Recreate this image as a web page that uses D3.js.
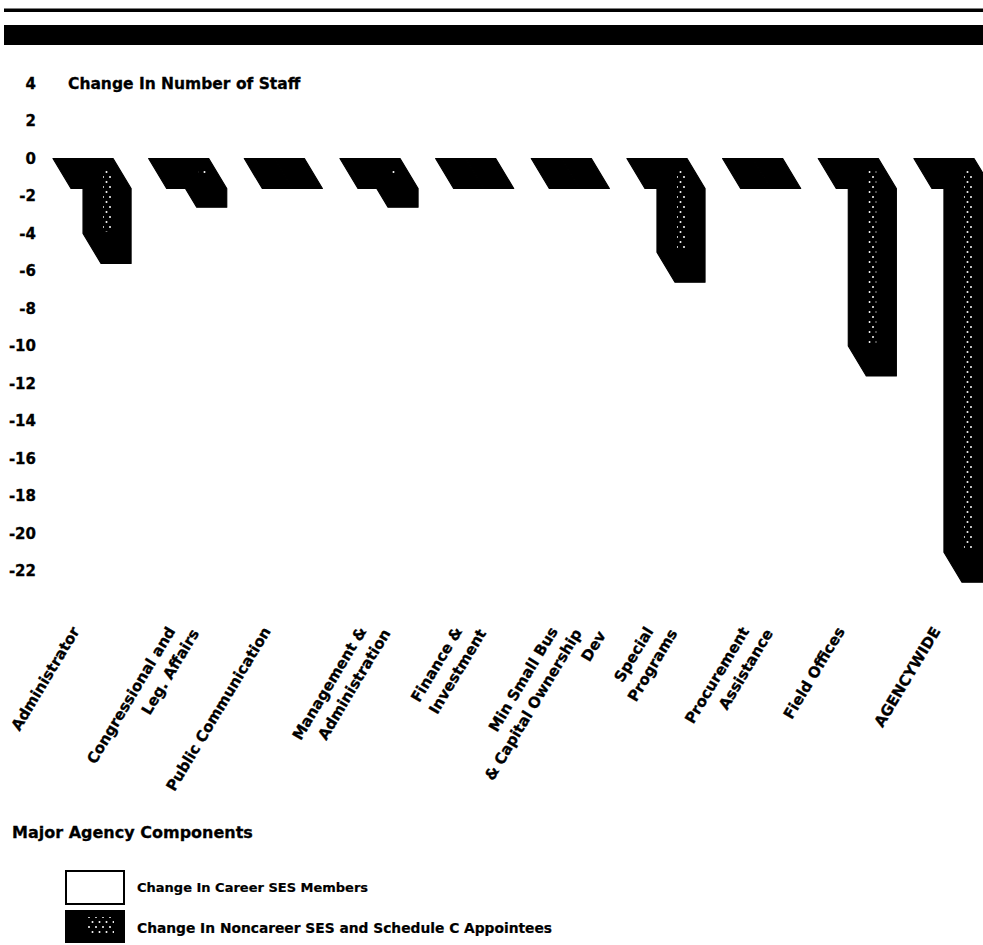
<!DOCTYPE html>
<html>
<head>
<meta charset="utf-8">
<script src="https://cdn.jsdelivr.net/npm/d3@7"></script>
<style>
  html, body { margin: 0; padding: 0; background: #fff; }
  svg { display: block; }
  text { font-family: "DejaVu Sans", sans-serif; font-weight: bold; fill: #000; }
</style>
</head>
<body>
<svg id="chart" width="983" height="945"></svg>
<script>
// Agency components (label lines as printed under each bar)
const categoryLines = [
  ["Administrator"],
  ["Congressional and", "Leg. Affairs"],
  ["Public Communication"],
  ["Management &", "Administration"],
  ["Finance &", "Investment"],
  ["Min Small Bus", "& Capital Ownership", "Dev"],
  ["Special", "Programs"],
  ["Procurement", "Assistance"],
  ["Field Offices"],
  ["AGENCYWIDE"]
];
const categories = categoryLines.map(l => l.join(" "));

// Change in number of staff per component
const careerChange    = [0, 0, 0, 0, 0, 0, 0, 0, 0, 0];
const noncareerChange = [-4, -1, 0, -1, 0, 0, -5, 0, -10, -21];

const seriesNames = [
  "Change In Career SES Members",
  "Change In Noncareer SES and Schedule C Appointees"
];
const yTicks = [4, 2, 0, -2, -4, -6, -8, -10, -12, -14, -16, -18, -20, -22];

const svg = d3.select("#chart");
const defs = svg.append("defs");

// sparse white dots on black for the noncareer series
const pat = defs.append("pattern")
  .attr("id", "dots").attr("patternUnits", "userSpaceOnUse")
  .attr("width", 7).attr("height", 10);
pat.append("rect").attr("width", 7).attr("height", 10).attr("fill", "#000");
pat.append("circle").attr("cx", 1.5).attr("cy", 2).attr("r", 1).attr("fill", "#fff");
pat.append("circle").attr("cx", 5).attr("cy", 7).attr("r", 1).attr("fill", "#fff");

// header rules
svg.append("rect").attr("x", 4).attr("y", 8.5).attr("width", 979).attr("height", 3.5).attr("fill", "#000");
svg.append("rect").attr("x", 4).attr("y", 25).attr("width", 979).attr("height", 20).attr("fill", "#000");

// scales
const y = d3.scaleLinear().domain([4, -22]).range([83.5, 571]);
const x = d3.scaleBand().domain(categories).range([53, 974]).paddingInner(0.372).paddingOuter(0);
const xs = d3.scaleBand().domain(seriesNames).range([0, x.bandwidth()]);
const depth = { dx: 18, dy: 30 };

// y axis
const yAxis = d3.axisLeft(y).tickValues(yTicks).tickSize(0).tickPadding(0)
  .tickFormat(d => d < 0 ? "-" + Math.abs(d) : String(d));
const gy = svg.append("g").attr("transform", "translate(36,0)").call(yAxis);
gy.select(".domain").remove();
gy.selectAll("text")
  .style("font-family", "\"DejaVu Sans\", sans-serif")
  .style("font-weight", "bold")
  .style("font-size", "15px")
  .attr("fill", "#000")
  .attr("stroke", "#000").attr("stroke-width", 0.3);

// axis title
svg.append("text").attr("x", 68).attr("y", 89)
  .style("font-size", "15.5px").attr("stroke", "#000").attr("stroke-width", 0.3)
  .text("Change In Number of Staff");

// bars: oblique 3D boxes hanging from zero, depth toward upper-left
const barData = categories.flatMap((c, i) => [
  { c, s: seriesNames[0], v: careerChange[i] },
  { c, s: seriesNames[1], v: noncareerChange[i] }
]);

function barPath(d) {
  const x0 = x(d.c) + xs(d.s), x1 = x0 + xs.bandwidth();
  const y0 = y(0), yv = y(d.v);
  const { dx, dy } = depth;
  return d3.line()([
    [x0, y0], [x1, y0], [x1 + dx, y0 + dy],
    [x1 + dx, yv + dy], [x0 + dx, yv + dy], [x0, yv]
  ]) + "Z";
}

svg.append("g").selectAll("path").data(barData).join("path")
  .attr("d", barPath)
  .attr("fill", "#000")
  .attr("stroke", "#000").attr("stroke-width", 1.2).attr("stroke-linejoin", "round");

// dotted strip inside each falling noncareer bar
svg.append("g").selectAll("rect")
  .data(barData.filter(d => d.s === seriesNames[1] && d.v < 0))
  .join("rect")
  .attr("x", d => x(d.c) + xs(d.s) + depth.dx + 2)
  .attr("y", d => y(0) + 10)
  .attr("width", 8)
  .attr("height", d => Math.max(0, y(d.v) - 2 - (y(0) + 10)))
  .attr("fill", "url(#dots)");

// category labels, rotated
const labelG = svg.append("g");
categories.forEach((c, i) => {
  categoryLines[i].forEach((line, j) => {
    labelG.append("text")
      .attr("transform", `translate(${x(c) + 27 + j * 24},${631 + j * 2}) rotate(-59)`)
      .attr("text-anchor", "end")
      .style("font-size", "15px")
      .attr("stroke", "#000").attr("stroke-width", 0.3)
      .text(line);
  });
});

// x axis title
svg.append("text").attr("x", 12).attr("y", 838)
  .style("font-size", "16px").attr("stroke", "#000").attr("stroke-width", 0.3)
  .text("Major Agency Components");

// legend
const legend = svg.append("g");
legend.append("rect").attr("x", 66).attr("y", 871).attr("width", 58).attr("height", 33)
  .attr("fill", "#fff").attr("stroke", "#000").attr("stroke-width", 2);
legend.append("rect").attr("x", 65).attr("y", 910).attr("width", 60).attr("height", 33)
  .attr("fill", "#000");
legend.append("rect").attr("x", 88).attr("y", 917).attr("width", 26).attr("height", 18)
  .attr("fill", "url(#dots)");
legend.append("text").attr("x", 137).attr("y", 892)
  .style("font-size", "13px").attr("stroke", "#000").attr("stroke-width", 0.2)
  .text(seriesNames[0]);
legend.append("text").attr("x", 137).attr("y", 933)
  .style("font-size", "13.8px").attr("stroke", "#000").attr("stroke-width", 0.2)
  .text(seriesNames[1]);
</script>
</body>
</html>
